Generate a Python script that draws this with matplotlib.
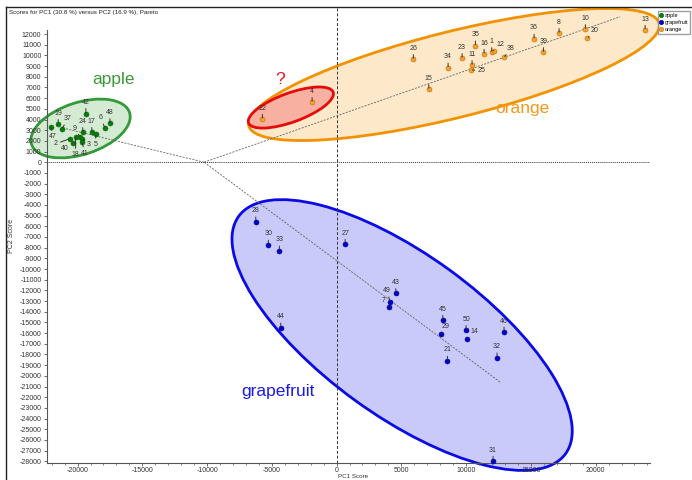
import matplotlib
matplotlib.use("Agg")
import matplotlib.pyplot as plt
from matplotlib.patches import Ellipse
from matplotlib.transforms import ScaledTranslation
from matplotlib.lines import Line2D
from matplotlib.ticker import MultipleLocator, FixedLocator

plt.rcParams['font.family'] = ['Liberation Sans', 'DejaVu Sans']
plt.rcParams['axes.unicode_minus'] = False

# ---- PCA scores (PC1, PC2) per sample ----
apple_ids = [42, 19, 37, 47, 48, 6, 17, 24, 5, 9, 2, 40, 18, 3, 41]
apple_pc1 = [-19360, -21500, -21200, -22080, -17500, -17900, -18900, -19600,
             -18600, -19800, -20600, -20350, -20150, -19650, -19660]
apple_pc2 = [4490, 3550, 3140, 3320, 3640, 3230, 2800, 2800,
             2610, 2360, 2200, 1770, 2390, 2200, 1890]

orange_ids = [26, 34, 15, 23, 35, 16, 1, 12, 11, 25, 38, 36, 39, 8, 10, 20, 13, 22, 4]
orange_pc1 = [5930, 8610, 7120, 9690, 10720, 11390, 11980, 12120, 10460, 10410,
              12930, 15250, 15970, 17180, 19210, 19370, 23820, -5730, -1890]
orange_pc2 = [9630, 8850, 6830, 9730, 10910, 10130, 10290, 10460, 9070, 8630,
              9820, 11540, 10290, 12070, 12440, 11600, 12380, 4040, 5610]

grape_ids = [28, 30, 33, 27, 44, 43, 49, 7, 45, 29, 50, 14, 46, 32, 21, 31]
grape_pc1 = [-6240, -5270, -4420, 660, -4310, 4570, 4130, 4080, 8200, 8050,
             10000, 10050, 12930, 12390, 8560, 12080]
grape_pc2 = [-5570, -7750, -8290, -7660, -15500, -12280, -13060, -13560, -14780,
             -16110, -15740, -16580, -15900, -18300, -18610, -27980]

# label offsets (pixels) for labels that are not placed straight above the point
DEFAULT_OFFSET = (0, 11)
label_offsets = {
    'apple': {42: (0, 12), 19: (0, 11), 37: (6, 10), 47: (2, -10), 48: (0, 11),
              6: (-4, 10), 17: (0, 11), 24: (0, 11), 5: (0, -10), 9: (-6, 9),
              2: (-14, -5), 40: (-8, -5), 18: (0, -18), 3: (7, -6), 41: (3, -11)},
    'orange': {12: (7, 6), 25: (10, 0), 38: (7, 9), 20: (7, 8), 22: (0, 11)},
    'grapefruit': {49: (-3, 11), 7: (-6, 7), 29: (5, 8), 14: (8, 8)},
}

# group direction lines drawn from a common hub
hub = (-10230, 0)
direction_ends = {'apple': (-21220, 3230), 'orange': (21890, 13620),
                  'grapefruit': (12700, -20650)}

colors = {'apple': '#0a7a0a', 'grapefruit': '#0000cc', 'orange': '#f5a02a'}
edges = {'apple': '#0a6a0a', 'grapefruit': '#00009a', 'orange': '#c07010'}

W, H = 692, 480
fig = plt.figure(figsize=(W / 100, H / 100), dpi=100)
ax = fig.add_axes([47 / W, 1 - 463.3 / H, (650 - 47) / W, (463.3 - 8) / H])
ax.set_facecolor('none')

XMIN, XMAX = -22360, 24200
YMIN, YMAX = -28190, 14440

# ---- group outlines (sizes in pixels, centred in data units) ----
def outline(cx, cy, w_px, h_px, angle, face, edge, z):
    tr = fig.dpi_scale_trans + ScaledTranslation(cx, cy, ax.transData)
    e = Ellipse((0, 0), w_px / fig.dpi, h_px / fig.dpi, angle=angle,
                transform=tr, facecolor=face, edgecolor=edge, lw=2.0,
                zorder=z, clip_on=False)
    ax.add_artist(e)

outline(-19770, 3160, 103, 52, 18, '#d5ead3', '#33993a', 1)
outline(9060, 8210, 423, 86, 14, '#fde8c9', '#f39200', 1)
outline(-3530, 5120, 90, 29, 20, '#f8b1a0', '#e60a0a', 1.2)
outline(5060, -16180, 404, 161, -36, '#c9c9fa', '#0a0ae6', 1)

# ---- reference lines ----
ax.axhline(0, color='#333333', lw=0.7, ls=(0, (1, 1)), zorder=2)
ax.axvline(0, color='#333333', lw=0.7, ls=(0, (3, 2)), zorder=2)
for g, (ex, ey) in direction_ends.items():
    ax.plot([hub[0], ex], [hub[1], ey], color='#666666', lw=0.6,
            ls=(0, (2.5, 1.5)), zorder=2, clip_on=False)

# ---- points and labels ----
groups = [('apple', apple_ids, apple_pc1, apple_pc2),
          ('grapefruit', grape_ids, grape_pc1, grape_pc2),
          ('orange', orange_ids, orange_pc1, orange_pc2)]
for name, ids, xs, ys in groups:
    ax.scatter(xs, ys, s=13, color=colors[name], edgecolor=edges[name],
               linewidth=0.4, zorder=4, clip_on=False)
    offs = label_offsets.get(name, {})
    for i, x, y in zip(ids, xs, ys):
        dx, dy = offs.get(i, DEFAULT_OFFSET)
        ax.annotate(str(i), xy=(x, y), xytext=(dx, dy),
                    textcoords='offset pixels', ha='center', va='center',
                    fontsize=5, color='#333333', zorder=5,
                    arrowprops=dict(arrowstyle='-', color='#333333', lw=0.7,
                                    shrinkA=0, shrinkB=0.8))

# ---- group captions ----
ax.text(-17260, 7700, 'apple', color='#3a9a3a', fontsize=12.5, ha='center', va='center')
ax.text(14320, 5070, 'orange', color='#f5971a', fontsize=12.5, ha='center', va='center')
ax.text(-4540, -21490, 'grapefruit', color='#1a1ae6', fontsize=12.5, ha='center', va='center')
ax.text(-4360, 7700, '?', color='#e8141e', fontsize=12.5, ha='center', va='center')

# ---- axes styling ----
ax.set_xlim(XMIN, XMAX)
ax.set_ylim(YMIN, YMAX)
for s in ('top', 'right'):
    ax.spines[s].set_visible(False)
for s in ('left', 'bottom'):
    ax.spines[s].set_color('#555555')
    ax.spines[s].set_linewidth(0.8)
ax.spines['left'].set_bounds(YMIN, 12400)

ax.xaxis.set_major_locator(FixedLocator(range(-20000, 20001, 5000)))
ax.xaxis.set_minor_locator(MultipleLocator(1000))
ax.yaxis.set_major_locator(FixedLocator(range(-28000, 12001, 1000)))
ax.tick_params(axis='both', which='major', labelsize=5, length=2.5, width=0.6,
               colors='#555555', labelcolor='#333333', pad=1.5)
ax.tick_params(axis='x', which='major', length=2, pad=0.8)
ax.tick_params(axis='x', which='minor', length=1.5, width=0.5, colors='#555555')

ax.set_xlabel('PC1 Score', fontsize=4.5, color='#333333', va='bottom')
ax.xaxis.set_label_coords(0.5 + 5 / (650 - 47), -(479.5 - 463.3) / (463.3 - 8))
ax.set_ylabel('PC2 Score', fontsize=5, color='#333333', labelpad=3)

# ---- legend ----
handles = [Line2D([], [], ls='none', marker='o', ms=3.2, color=colors[g],
                  markeredgecolor=edges[g], markeredgewidth=0.4)
           for g in ('apple', 'grapefruit', 'orange')]
fig.legend(handles, ['apple', 'grapefruit', 'orange'], loc='upper left',
           bbox_to_anchor=(658 / W, 1 - 11 / H), fontsize=4, frameon=True,
           fancybox=False, edgecolor='#888888', handlelength=0.5,
           handletextpad=0.4, borderpad=0.35, labelspacing=0.35,
           borderaxespad=0)

# ---- window frame and title ----
fig.add_artist(Line2D([6 / W, 6 / W], [0, 1 - 7 / H], transform=fig.transFigure,
                      color='#222222', lw=1))
fig.add_artist(Line2D([6 / W, 1], [1 - 7 / H, 1 - 7 / H], transform=fig.transFigure,
                      color='#222222', lw=1))
fig.text(9 / W, 1 - 12.5 / H, 'Scores for PC1 (30.8 %) versus PC2 (16.9 %), Pareto',
         fontsize=4.5, va='center', color='#222222')

fig.savefig('out.png', dpi=100)
